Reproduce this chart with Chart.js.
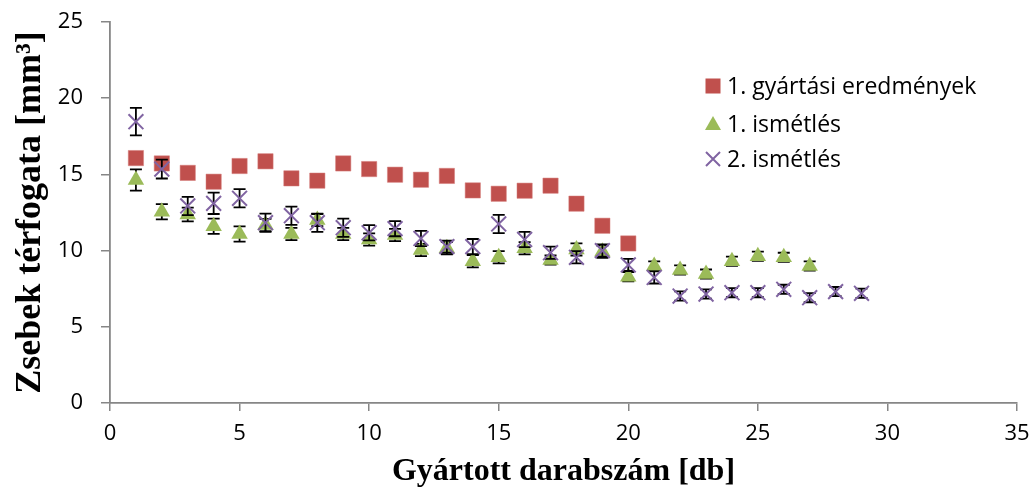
<!DOCTYPE html>
<html>
<head>
<meta charset="utf-8">
<script src="https://cdn.jsdelivr.net/npm/chart.js@4.4.1/dist/chart.umd.min.js"></script>
<style>
  html, body { margin: 0; padding: 0; background: #ffffff; }
  #wrap { position: relative; width: 1034px; height: 493px; }
</style>
</head>
<body>
<div id="wrap"><canvas id="c" width="1034" height="493"></canvas></div>
<script>
// ---- data ----
const xValues = [1,2,3,4,5,6,7,8,9,10,11,12,13,14,15,16,17,18,19,20,21,22,23,24,25,26,27,28,29];

const seriesNames = ['1. gyártási eredmények', '1. ismétlés', '2. ismétlés'];

const gyartasi = [16.07,15.72,15.10,14.52,15.55,15.86,14.74,14.59,15.72,15.35,
                  14.98,14.65,14.90,13.95,13.73,13.93,14.26,13.08,11.63,10.47];

const ismetles1 = [14.63,12.55,12.37,11.60,11.09,11.68,11.09,12.00,11.09,10.73,
                   11.02,10.04,10.15,9.30,9.56,10.15,9.38,10.08,9.93,8.29,
                   8.99,8.73,8.46,9.30,9.63,9.56,8.99];
const ismetles1Err = [0.70,0.50,0.45,0.50,0.50,0.40,0.40,0.40,0.40,0.40,
                      0.40,0.40,0.40,0.40,0.40,0.40,0.30,0.40,0.40,0.30,
                      0.30,0.30,0.30,0.30,0.30,0.30,0.30];

const ismetles2 = [18.46,15.35,12.93,13.10,13.43,11.83,12.29,11.83,11.50,11.17,
                   11.44,10.80,10.26,10.26,11.75,10.73,9.86,9.56,10.00,9.06,
                   8.24,7.02,7.15,7.24,7.24,7.46,6.91,7.31,7.20];
const ismetles2Err = [0.90,0.62,0.60,0.70,0.60,0.60,0.60,0.60,0.60,0.50,
                      0.50,0.50,0.40,0.50,0.60,0.50,0.40,0.40,0.40,0.40,
                      0.40,0.30,0.30,0.30,0.30,0.30,0.30,0.30,0.30];

const xTicks = [0,5,10,15,20,25,30,35];
const yTicks = [0,5,10,15,20,25];

// ---- styles ----
const RED = '#C0504D', GREEN = '#9BBB59', PURPLE = '#8064A2';
const AXIS = '#868686';

function toPoints(vals) {
  return vals.map((v, i) => ({ x: xValues[i], y: v }));
}

const errorBarPlugin = {
  id: 'errorBars',
  beforeDatasetDraw(chart, args) {
    const ds = chart.data.datasets[args.index];
    if (!ds.errors) return;
    const xs = chart.scales.x, ys = chart.scales.y;
    const ctx = chart.ctx;
    ctx.save();
    ctx.strokeStyle = '#000000';
    ctx.lineWidth = 1.8;
    const cap = 6;
    ds.data.forEach((p, i) => {
      const e = ds.errors[i];
      const px = xs.getPixelForValue(p.x);
      const top = ys.getPixelForValue(p.y + e);
      const bot = ys.getPixelForValue(p.y - e);
      ctx.beginPath();
      ctx.moveTo(px, top); ctx.lineTo(px, bot);
      ctx.moveTo(px - cap, top); ctx.lineTo(px + cap, top);
      ctx.moveTo(px - cap, bot); ctx.lineTo(px + cap, bot);
      ctx.stroke();
    });
    ctx.restore();
  }
};

const legendPlugin = {
  id: 'customLegend',
  afterDraw(chart) {
    const ctx = chart.ctx;
    const rows = [86, 124, 159];
    const mx = 713, tx = 727;
    ctx.save();
    ctx.fillStyle = RED;
    ctx.fillRect(mx - 7.5, rows[0] - 7.5, 15, 15);
    ctx.fillStyle = GREEN;
    ctx.beginPath();
    ctx.moveTo(mx, rows[1] - 8);
    ctx.lineTo(mx + 8, rows[1] + 6);
    ctx.lineTo(mx - 8, rows[1] + 6);
    ctx.closePath();
    ctx.fill();
    ctx.strokeStyle = PURPLE;
    ctx.lineWidth = 2;
    ctx.beginPath();
    ctx.moveTo(mx - 7, rows[2] - 7); ctx.lineTo(mx + 7, rows[2] + 7);
    ctx.moveTo(mx + 7, rows[2] - 7); ctx.lineTo(mx - 7, rows[2] + 7);
    ctx.stroke();
    ctx.fillStyle = '#000000';
    ctx.font = '23px "Open Sans"';
    ctx.textBaseline = 'middle';
    ctx.textAlign = 'left';
    seriesNames.forEach((n, i) => ctx.fillText(n, tx, rows[i] + 1));
    ctx.restore();
  }
};

new Chart(document.getElementById('c'), {
  type: 'scatter',
  data: {
    datasets: [
      {
        label: seriesNames[0],
        data: toPoints(gyartasi),
        pointStyle: 'rect',
        pointRadius: 10.8,
        pointHoverRadius: 10.8,
        backgroundColor: RED,
        borderColor: '#D47C7A',
        borderWidth: 0.5,
        order: 2
      },
      {
        label: seriesNames[1],
        data: toPoints(ismetles1),
        errors: ismetles1Err,
        pointStyle: 'triangle',
        pointRadius: 9.5,
        pointHoverRadius: 9.5,
        backgroundColor: GREEN,
        borderColor: GREEN,
        borderWidth: 0,
        order: 1
      },
      {
        label: seriesNames[2],
        data: toPoints(ismetles2),
        errors: ismetles2Err,
        pointStyle: 'crossRot',
        pointRadius: 10.5,
        pointHoverRadius: 10.5,
        backgroundColor: PURPLE,
        borderColor: PURPLE,
        borderWidth: 2,
        order: 0
      }
    ]
  },
  options: {
    responsive: false,
    animation: false,
    events: [],
    layout: { padding: { top: 22, right: 17, left: 0, bottom: 0 } },
    plugins: {
      legend: { display: false },
      tooltip: { enabled: false }
    },
    scales: {
      x: {
        type: 'linear',
        min: 0, max: 35,
        afterBuildTicks(scale) { scale.ticks = xTicks.map(v => ({ value: v })); },
        afterFit(scale) {
          scale.height = 90;
          scale.paddingLeft = 0; scale.paddingRight = 0;
        },
        grid: { drawOnChartArea: false, drawTicks: true, tickLength: 8, color: AXIS, lineWidth: 1.5 },
        border: { display: true, color: AXIS, width: 1.8 },
        ticks: { color: '#000000', font: { family: '"Open Sans"', size: 22 }, padding: 10, maxRotation: 0 },
        title: {
          display: true,
          text: 'Gyártott darabszám [db]',
          color: '#000000',
          font: { family: '"Liberation Serif"', size: 32, weight: 'bold' },
          padding: { top: 0, bottom: 2 }
        }
      },
      y: {
        type: 'linear',
        min: 0, max: 25,
        afterBuildTicks(scale) { scale.ticks = yTicks.map(v => ({ value: v })); },
        afterFit(scale) {
          scale.width = 110;
          scale.paddingTop = 0; scale.paddingBottom = 0;
        },
        grid: { drawOnChartArea: false, drawTicks: true, tickLength: 9, color: AXIS, lineWidth: 1.5 },
        border: { display: true, color: AXIS, width: 1.8 },
        ticks: { color: '#000000', font: { family: '"Open Sans"', size: 22 }, padding: 18 },
        title: {
          display: true,
          text: 'Zsebek térfogata [mm³]',
          color: '#000000',
          font: { family: '"Liberation Serif"', size: 36, weight: 'bold' },
          padding: { top: 9, bottom: 0 }
        }
      }
    }
  },
  plugins: [errorBarPlugin, legendPlugin]
});
</script>
</body>
</html>
